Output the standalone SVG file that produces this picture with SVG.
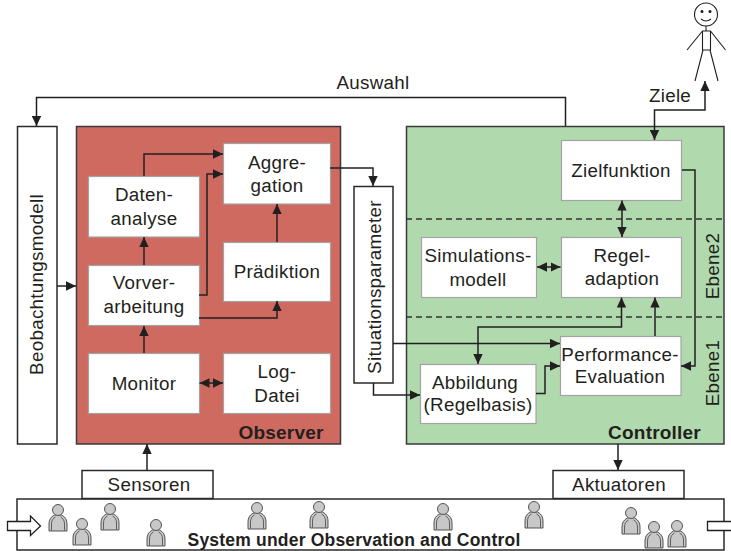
<svg xmlns="http://www.w3.org/2000/svg" xmlns:xlink="http://www.w3.org/1999/xlink" width="731" height="551" viewBox="0 0 731 551">
<style>
text{font-family:"Liberation Sans",Arial,sans-serif;font-size:18.8px;fill:#231f20;text-anchor:middle;letter-spacing:.3px}
text.b{font-weight:bold;font-size:19px;letter-spacing:.2px}
text.s{font-weight:bold;font-size:17.5px;letter-spacing:.2px}
.w{fill:#fff;stroke:#a3a3a3;stroke-width:1.2}
.o{fill:#fff;stroke:#2a2a2a;stroke-width:1.5}
.c{fill:none;stroke:#231f20;stroke-width:1.5;marker-end:url(#a)}
.d{fill:none;stroke:#231f20;stroke-width:1.5;marker-end:url(#a);marker-start:url(#a)}
.dash{stroke:#333;stroke-width:1.3;stroke-dasharray:6 4;fill:none}
.p{fill:#c8c8c8;stroke:#444;stroke-width:.9}
.h{fill:#fff;stroke:#231f20;stroke-width:1.3}
.m{fill:none;stroke:#444;stroke-width:.8}
</style>
<defs>
<marker id="a" markerUnits="userSpaceOnUse" markerWidth="11" markerHeight="10" refX="10" refY="5" orient="auto-start-reverse"><path d="M0,.3L10,5L0,9.700z" fill="#231f20"/></marker>
<g id="person">
<path class="p" d="M-9,27V20C-9,14 -5,10.500 0,10.500C5,10.500 9,14 9,20V27Z"/>
<path class="m" d="M-6.500,26.500V20C-6.500,16 -4.500,14 -2.500,13M6.500,26.500V20C6.500,16 4.500,14 2.500,13"/>
<circle class="p" cx="0" cy="6" r="5.500"/>
</g>
</defs>
<g id="observer"><rect x="76.500" y="126.500" width="264" height="317.500" fill="#cf6a60" stroke="#3a3a3a" stroke-width="1.500"/><text class="b" x="281" y="439">Observer</text></g>
<g id="controller"><rect x="406.500" y="126.500" width="317.500" height="317.500" fill="#b1d9ae" stroke="#3a3a3a" stroke-width="1.500"/><text class="b" x="654.500" y="439">Controller</text>
<path class="dash" d="M406,219H724M406,317H724"/>
<text transform="translate(718.500,266) rotate(-90)">Ebene2</text>
<text transform="translate(719,373) rotate(-90)">Ebene1</text></g>
<g id="beobachtungsmodell"><rect class="o" x="17.500" y="126.500" width="39.500" height="317.500"/><text transform="translate(43,284.500) rotate(-90)">Beobachtungsmodell</text></g>
<g id="datenanalyse"><rect class="w" x="88.500" y="176.500" width="111" height="60.500"/><text x="144" y="201">Daten-</text><text x="144" y="225">analyse</text></g>
<g id="vorverarbeitung"><rect class="w" x="88.500" y="265.500" width="111" height="60"/><text x="144" y="289">Vorver-</text><text x="144" y="313">arbeitung</text></g>
<g id="aggregation"><rect class="w" x="223.500" y="143.500" width="107" height="60.500"/><text x="277" y="169">Aggre-</text><text x="277" y="192">gation</text></g>
<g id="praediktion"><rect class="w" x="223.500" y="242.500" width="107" height="59"/><text x="277" y="278">Prädiktion</text></g>
<g id="monitor"><rect class="w" x="88.500" y="353.500" width="111" height="60"/><text x="144" y="390">Monitor</text></g>
<g id="logdatei"><rect class="w" x="223.500" y="353.500" width="107" height="60"/><text x="277" y="378">Log-</text><text x="277" y="402">Datei</text></g>
<g id="situationsparameter"><rect class="o" x="354" y="186.500" width="39" height="196.500"/><text transform="translate(380.500,287) rotate(-90)">Situationsparameter</text></g>
<g id="zielfunktion"><rect class="w" x="561.500" y="140.500" width="120" height="60"/><text x="621" y="177">Zielfunktion</text></g>
<g id="simulationsmodell"><rect class="w" x="421.500" y="237.500" width="115" height="60"/><text x="478" y="262">Simulations-</text><text x="478" y="286">modell</text></g>
<g id="regeladaption"><rect class="w" x="561.500" y="237.500" width="120" height="60"/><text x="622" y="262">Regel-</text><text x="622" y="285">adaption</text></g>
<g id="performance"><rect class="w" x="560.500" y="336.500" width="120.500" height="59"/><text x="620" y="361">Performance-</text><text x="620" y="383">Evaluation</text></g>
<g id="abbildung"><rect class="w" x="420.500" y="364.500" width="115.500" height="59"/><text x="475" y="389">Abbildung</text><text x="478" y="411">(Regelbasis)</text></g>
<g id="system"><rect x="17" y="499" width="707" height="51" fill="#fff" stroke="#2a2a2a" stroke-width="1.500"/>
<use xlink:href="#person" href="#person" x="58" y="504"/><use xlink:href="#person" href="#person" x="82" y="518"/><use xlink:href="#person" href="#person" x="110" y="503"/><use xlink:href="#person" href="#person" x="156" y="519"/><use xlink:href="#person" href="#person" x="257" y="502"/><use xlink:href="#person" href="#person" x="319" y="501"/><use xlink:href="#person" href="#person" x="443" y="503"/><use xlink:href="#person" href="#person" x="534" y="501"/><use xlink:href="#person" href="#person" x="631" y="507"/><use xlink:href="#person" href="#person" x="654" y="521"/><use xlink:href="#person" href="#person" x="677" y="520"/>
<text class="s" x="354" y="546">System under Observation and Control</text>
<path class="h" d="M7.500,521.500H30.500V516L40.500,526L30.500,535.500V530.500H7.500Z"/>
<path class="h" d="M731,521.500H707.500V530.500H731"/>
</g>
<g id="sensoren"><rect class="o" x="82" y="470.500" width="131" height="28"/><text x="149" y="491">Sensoren</text></g>
<g id="aktuatoren"><rect class="o" x="553" y="470.500" width="131" height="28"/><text x="619" y="491">Aktuatoren</text></g>
<g id="mensch" fill="none" stroke="#231f20" stroke-width="1.100">
<ellipse cx="706" cy="14.500" rx="11.500" ry="11.500"/>
<circle cx="702" cy="11.500" r="1" fill="#231f20"/><circle cx="710" cy="11.500" r="1" fill="#231f20"/>
<path d="M701,19Q706,23 711,19M706,26V31M702.500,31H710.500V50H702.500ZM702.500,31L687,50M710.500,31L725.500,50M703,50L695,81M710,50L718,81"/>
</g>
<g id="connectors">
<path class="c" d="M565.500,126V97.500H36.500V126"/>
<text x="373" y="89">Auswahl</text>
<path class="d" d="M654.500,140V110H705V81"/>
<text x="670" y="102">Ziele</text>
<path class="c" d="M144,265V237"/>
<path class="c" d="M144,176V154H223"/>
<path class="c" d="M199,295H207V174H223"/>
<path class="c" d="M199,318H277V301"/>
<path class="c" d="M277,242V204"/>
<path class="c" d="M144,353V326"/>
<path class="d" d="M199.500,383H223"/>
<path class="c" d="M57,286H76"/>
<path class="c" d="M147,470V444"/>
<path class="c" d="M330,168H373V186"/>
<path class="c" d="M373.500,383V395H420"/>
<path class="c" d="M393,343.500H560"/>
<path class="c" d="M536,393.500H545V366H560"/>
<path class="d" d="M621.500,297.500V327H478V364"/>
<path class="c" d="M655,336V297.500"/>
<path class="c" d="M682,170H695V366H681"/>
<path class="d" d="M622,200.500V237"/>
<path class="d" d="M537,267H560.500"/>
<path class="c" d="M618,444V470"/>
</g>
</svg>
